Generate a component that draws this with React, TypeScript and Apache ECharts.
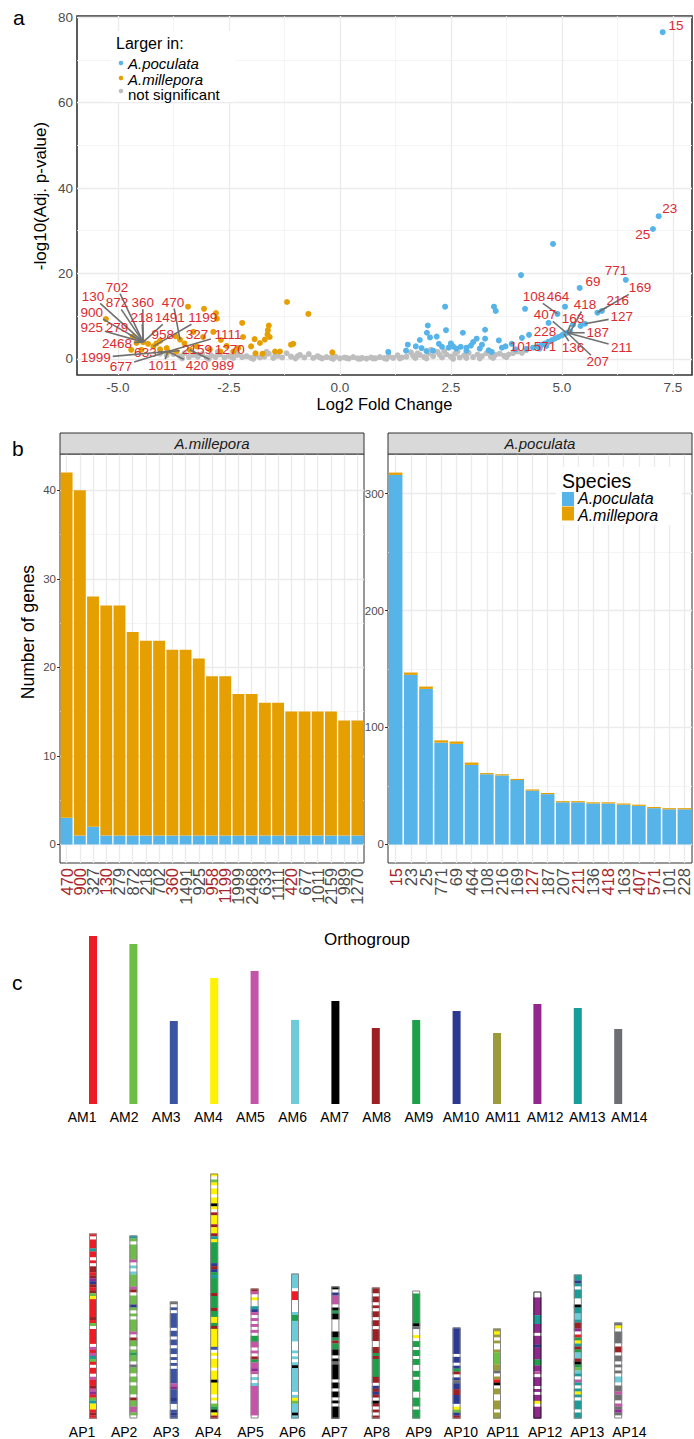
import React, { useEffect, useRef } from 'react';
import * as echarts from 'echarts';

const FONT = '"Liberation Sans", Arial, Helvetica, sans-serif';

// ---------------- Panel a: volcano plot ----------------
const volcanoXTicks = [-5, -2.5, 0, 2.5, 5, 7.5];
const volcanoXMinor = [-3.75, -1.25, 1.25, 3.75, 6.25];
const volcanoYTicks = [0, 20, 40, 60, 80];
const volcanoYMinor = [10, 30, 50, 70];

const poculataPoints = [
  [7.27, 76.5], [7.18, 33.4], [7.05, 30.4], [4.8, 26.9], [4.08, 19.6], [6.44, 18.5], [5.4, 16.6],
  [5.07, 12.2], [4.9, 10.5], [4.17, 11.7], [3.47, 12.2], [3.51, 11.2], [2.37, 12.2],
  [5.8, 10.8], [5.9, 11.2], [5.52, 8.2], [5.42, 7.7], [5.25, 8.0], [4.7, 8.4],
  [1.09, 1.6], [1.53, 3.3], [1.49, 1.9], [1.8, 4.4], [1.71, 2.9], [1.84, 2.5], [1.98, 7.8], [1.96, 6.1],
  [2.03, 5.0], [2.18, 5.2], [2.23, 3.5], [2.39, 6.7], [2.3, 2.8], [2.45, 2.6], [2.55, 2.9], [2.62, 2.4],
  [2.72, 2.8], [2.77, 6.1], [2.85, 2.6], [2.95, 3.1], [3.0, 3.9], [3.08, 4.7], [3.27, 6.8], [3.27, 4.7],
  [3.15, 2.4], [3.35, 2.0], [3.42, 1.6], [3.58, 4.3], [3.65, 2.6], [3.73, 2.9], [3.87, 3.5], [3.95, 2.2],
  [4.1, 4.9], [4.26, 5.6], [4.2, 2.3], [4.35, 2.6], [4.45, 2.9], [4.55, 3.3], [4.62, 3.6], [4.7, 4.0],
  [4.78, 4.4], [4.85, 4.8], [4.92, 5.1], [5.0, 5.5], [5.05, 5.8], [5.12, 6.1], [5.18, 6.4], [4.5, 2.4],
  [4.65, 3.0], [2.1, 1.9], [2.5, 3.6], [1.95, 1.8], [3.2, 3.3], [2.85, 1.9],
];

const milleporaPoints = [
  [-1.19, 13.3], [-0.71, 10.5], [-0.17, 1.5], [-1.05, 3.5], [-1.1, 3.3], [-1.46, 1.7], [-1.35, 1.7],
  [-1.6, 7.8], [-1.62, 6.7], [-1.63, 5.7], [-1.58, 5.1], [-1.69, 4.5], [-1.8, 3.7], [-1.92, 4.6],
  [-2.0, 2.9], [-1.9, 1.3], [-1.74, 1.2], [-2.2, 8.4], [-2.18, 5.1], [-2.29, 2.5], [-2.4, 1.7],
  [-2.79, 10.7], [-3.06, 11.7], [-3.42, 12.2], [-2.77, 9.4], [-2.85, 6.3], [-2.68, 4.4], [-3.08, 5.1],
  [-3.5, 3.6], [-3.7, 5.3], [-3.6, 4.5], [-2.69, 1.7], [-2.93, 2.2], [-3.22, 2.9], [-3.38, 2.1],
  [-3.68, 1.7], [-3.9, 2.5], [-5.27, 9.3], [-4.66, 5.2], [-4.43, 3.9], [-4.32, 3.5], [-4.2, 2.9],
  [-4.05, 2.2], [-4.13, 3.6], [-4.58, 3.7], [-4.47, 2.1], [-4.7, 2.1], [-3.87, 1.7], [-4.05, 4.2],
  [-3.3, 6.3], [-2.55, 3.0],
];

const notSignificantPoints = [
  [-4.05, 1.2], [-3.9, 0.8], [-3.75, 1.1], [-3.6, 0.6], [-3.5, 1.3], [-3.4, 0.4], [-3.3, 0.9], [-3.2, 0.5],
  [-3.1, 1.1], [-3.0, 0.3], [-2.9, 0.8], [-2.8, 0.4], [-2.7, 1.0], [-2.6, 0.3], [-2.5, 0.7], [-2.4, 0.2],
  [-2.3, 0.9], [-2.2, 0.4], [-2.1, 0.6], [-2.0, 0.2], [-1.9, 0.8], [-1.8, 0.3], [-1.7, 0.5], [-1.6, 1.2],
  [-1.5, 0.2], [-1.4, 0.7], [-1.3, 0.3], [-1.2, 1.3], [-1.1, 0.5], [-1.0, 0.1], [-0.9, 0.9], [-0.8, 0.3],
  [-0.7, 1.1], [-0.6, 0.2], [-0.5, 0.6], [-0.4, 0.1], [-0.3, 0.4], [-0.2, 0.2], [-0.1, 0.5], [0.0, 0.1],
  [0.1, 0.3], [0.2, 0.05], [0.3, 0.4], [0.4, 0.1], [0.5, 0.2], [0.6, 0.05], [0.7, 0.3], [0.8, 0.1],
  [0.9, 0.4], [1.0, 0.15], [1.1, 0.6], [1.2, 0.2], [1.3, 0.8], [1.4, 0.3], [1.5, 0.5], [1.6, 1.5],
  [1.7, 0.2], [1.8, 0.9], [1.9, 0.4], [2.0, 1.3], [2.1, 0.6], [2.2, 1.6], [2.3, 0.3], [2.4, 1.0],
  [2.5, 0.5], [2.6, 1.2], [2.7, 0.3], [2.8, 0.8], [2.9, 1.4], [3.0, 0.4], [3.1, 1.0], [3.2, 0.6],
  [3.3, 1.3], [3.4, 0.5], [3.5, 0.9], [3.6, 1.2], [3.7, 0.7], [3.8, 1.0], [3.9, 1.3], [4.0, 1.7],
  [4.1, 1.4], [4.2, 2.0], [-3.55, 0.1], [-2.95, 0.0], [-2.45, 0.5], [-1.95, 0.0], [-1.45, 0.9],
  [-0.95, 0.6], [-0.45, 0.3], [-0.15, 0.0], [0.15, 0.2], [0.45, 0.0], [0.75, 0.1], [1.05, 0.0],
  [1.35, 0.1], [1.65, 0.7], [1.95, 0.1], [2.25, 0.9], [2.55, 0.0], [2.85, 0.2], [3.15, 0.1], [3.45, 0.2],
  [3.75, 0.4], [1.75, 1.3], [2.05, 2.1], [2.35, 1.8], [2.65, 1.7], [-2.75, 1.6], [-2.35, 1.4], [-1.65, 1.6],
];

// [orthogroup, point x, point y, label x, label y]
const volcanoLabels: [string, number, number, number, number][] = [
  ['702', -4.43, 3.9, -5.02, 16.8], ['130', -4.43, 3.9, -5.56, 14.5], ['872', -4.43, 3.9, -5.02, 13.1],
  ['360', -4.43, 3.9, -4.44, 13.1], ['470', -3.6, 4.5, -3.76, 13.3], ['900', -4.43, 3.9, -5.59, 10.8],
  ['218', -4.43, 3.9, -4.46, 9.6], ['1491', -4.43, 3.9, -3.83, 9.6], ['1199', -4.2, 2.9, -3.09, 9.6],
  ['925', -4.43, 3.9, -5.59, 7.3], ['279', -4.43, 3.9, -5.02, 7.3], ['958', -4.05, 4.2, -3.99, 5.8],
  ['327', -3.5, 3.6, -3.22, 5.8], ['1111', -3.87, 1.7, -2.52, 5.8], ['2468', -4.43, 3.9, -5.02, 3.6],
  ['633', -3.87, 1.7, -4.38, 1.5], ['2159', -3.87, 1.7, -3.22, 2.1], ['1270', -2.55, 3.0, -2.48, 2.1],
  ['1999', -3.87, 1.7, -5.5, 0.2], ['677', -3.87, 1.7, -4.93, -1.7], ['1011', -3.87, 1.7, -3.99, -1.6],
  ['420', -3.87, 1.7, -3.22, -1.6], ['989', -3.38, 2.1, -2.64, -1.6],
  ['15', 7.27, 76.5, 7.57, 78.1], ['23', 7.18, 33.4, 7.43, 35.3], ['25', 7.05, 30.4, 6.82, 29.0],
  ['771', 6.44, 18.5, 6.22, 20.6], ['69', 5.4, 16.6, 5.7, 18.2], ['169', 5.86, 11.2, 6.76, 16.6],
  ['216', 5.8, 10.8, 6.26, 13.6], ['464', 5.07, 12.2, 4.91, 14.5], ['108', 4.9, 10.5, 4.37, 14.5],
  ['418', 5.18, 6.1, 5.52, 12.6], ['407', 5.1, 6.1, 4.62, 10.3], ['163', 5.12, 6.1, 5.25, 9.4],
  ['127', 5.52, 8.2, 6.35, 9.8], ['228', 5.0, 5.5, 4.62, 6.5], ['187', 5.12, 6.1, 5.81, 6.1],
  ['211', 5.12, 6.1, 6.35, 2.6], ['101', 4.35, 2.6, 4.08, 2.8], ['571', 4.7, 4.0, 4.62, 2.8],
  ['136', 5.05, 5.8, 5.25, 2.6], ['207', 5.12, 6.1, 5.81, -0.7],
];

// ---------------- Panel b: bar facets ----------------
const milleporaGroups = ['470', '900', '327', '130', '279', '872', '218', '702', '360', '1491', '925', '958',
  '1199', '1999', '2468', '633', '1111', '420', '677', '1011', '2159', '989', '1270'];
const milleporaFacetPoculata = [3, 1, 2, 1, 1, 1, 1, 1, 1, 1, 1, 1, 1, 1, 1, 1, 1, 1, 1, 1, 1, 1, 1];
const milleporaFacetMillepora = [39, 39, 26, 26, 26, 23, 22, 22, 21, 21, 20, 18, 18, 16, 16, 15, 15, 14, 14, 14, 14, 13, 13];

const poculataGroups = ['15', '23', '25', '771', '69', '464', '108', '216', '169', '127', '187', '207', '211',
  '136', '418', '163', '407', '571', '101', '228'];
const poculataFacetPoculata = [316, 145, 133, 87, 86, 68, 60, 59, 55, 46, 43, 36, 36, 35, 35, 34, 33, 31, 30, 30];
const poculataFacetMillepora = [2, 2, 2, 2, 2, 2, 1, 1, 1, 1, 1, 1, 1, 1, 1, 1, 1, 1, 1, 1];

const highlightedGroups = ['470', '900', '130', '360', '958', '1199', '420', '15', '127', '211', '418', '407', '571'];

const milleporaYTicks = [0, 10, 20, 30, 40];
const milleporaYMinor = [5, 15, 25, 35];
const poculataYTicks = [0, 100, 200, 300];
const poculataYMinor = [50, 150, 250];

// ---------------- Panel c: chromosomes ----------------
const amNames = ['AM1', 'AM2', 'AM3', 'AM4', 'AM5', 'AM6', 'AM7', 'AM8', 'AM9', 'AM10', 'AM11', 'AM12', 'AM13', 'AM14'];
const amLengths = [168, 160, 83, 126, 133, 84, 103, 76, 84, 93, 71, 100, 96, 75];
const apNames = ['AP1', 'AP2', 'AP3', 'AP4', 'AP5', 'AP6', 'AP7', 'AP8', 'AP9', 'AP10', 'AP11', 'AP12', 'AP13', 'AP14'];
const apLengths = [185, 183, 117, 245, 130, 145, 132, 131, 128, 91, 90, 127, 144, 96];
// band codes top->bottom: a..n = AM1..AM14 colour, w = unassigned (white)
const apBands = [
  'awaaamaawawhhahljhahbdaaaaaahabwaaaaaweaembawaaweaahelabmddaha',
  'mbwbbbbbewfwfbbbbehwbbbjbwbwbbbbewhbbwbibbwnbbwbbwbbbwhbbeebw',
  'nwcwcccccwccwccwccwcwcwcccccelcccjcwwcjc',
  'dwbdwddwddgdwhdddhddhmdiiiiiiijhjimiiiiihiiiihiiddihddddddcwdwdddwdddgddddwdwbigdh',
  'hewdwwmjewewewewiieewewhieelewfwfeeeeeeeeeew',
  'fffffwaaawwwwfiifffffffwwwfwfwfgffffffffwfdbfffgf',
  'gwjeeewgiggwwwwggihiiggwgngggggwggwggwgwgggg',
  'hhwhhwhwhhwhhwhhhhwwhhihiiiiiihhwjhjhwghwhwh',
  'wiiiiiiiiiignwwdwiiwiiwiiwwiiwiiiiwwiiiwiii',
  'jjjjjjjjjwjjwjihwjnjjhhjjjwdbjh',
  'kdkwkwwkbbbbkknwkagwkkwwkkkwkk',
  'wwllllllmmmlllwllljlllliillewlllwlwlldwllll',
  'mmjmwmmmwwgmmffmhhlwaidmhiffhgibfmwemwmdmwmmmwmm',
  'ndwnnnnwhhwnnwnwnwffwnnennwenlnw',
];
const bandKeys = 'abcdefghijklmnw';
const bandColors = ['#ED1C24', '#6DBE45', '#3A53A4', '#FFF200', '#C554A8', '#6DCBDA', '#000000', '#9E1F23',
  '#1E9F4A', '#2B3990', '#9C9B3A', '#92278F', '#189D9A', '#6D6E71', '#FFFFFF'];

const COL = { blue: '#56B4E9', orange: '#E69F00', gray: '#BEBEBE', red: '#DC2A30', darkRed: '#A8262B', tick: '#4D4D4D' };

function gridLines(xAxisIndex: number, yAxisIndex: number, xs: number[], ys: number[], xsMinor: number[], ysMinor: number[]) {
  const major = { color: '#EBEBEB', width: 1.3, type: 'solid' };
  const minor = { color: '#F3F3F3', width: 0.8, type: 'solid' };
  return {
    type: 'line', xAxisIndex, yAxisIndex, data: [], silent: true,
    markLine: {
      z: 1, silent: true, symbol: ['none', 'none'], label: { show: false }, emphasis: { disabled: true },
      data: [
        ...xsMinor.map((v) => ({ xAxis: v, lineStyle: minor })),
        ...ysMinor.map((v) => ({ yAxis: v, lineStyle: minor })),
        ...xs.map((v) => ({ xAxis: v, lineStyle: major })),
        ...ys.map((v) => ({ yAxis: v, lineStyle: major })),
      ],
    },
  };
}

function buildOption() {
  const tickStyle = { show: true, length: 3, lineStyle: { color: '#333', width: 1 } };

  const apBandData: number[][] = [];
  apBands.forEach((s, ci) => {
    const L = apLengths[ci];
    const n = s.length;
    let k = 0;
    while (k < n) {
      let j = k;
      while (j + 1 < n && s[j + 1] === s[k]) j++;
      apBandData.push([ci, L * (1 - (j + 1) / n), L * (1 - k / n), bandKeys.indexOf(s[k])]);
      k = j + 1;
    }
  });

  const richLabels = {
    r: { color: COL.darkRed, fontSize: 16.5, fontFamily: FONT },
    g: { color: COL.tick, fontSize: 16.5, fontFamily: FONT },
  };
  const catFormatter = (v: string) => (highlightedGroups.includes(v) ? `{r|${v}}` : `{g|${v}}`);

  const txt = (text: string, x: number, y: number, size: number, extra: any = {}) => ({
    type: 'text', x, y, z: 20, silent: true,
    rotation: extra.rotation || 0,
    style: {
      text, fill: extra.fill || '#000', fontSize: size, fontFamily: FONT,
      fontStyle: extra.italic ? 'italic' : 'normal',
      align: extra.align || 'left', verticalAlign: 'middle',
    },
  });

  const graphic: any[] = [
    txt('a', 13, 17, 21),
    txt('b', 12, 448, 21),
    txt('c', 12, 982, 21),
    // panel a axis titles
    txt('Log2 Fold Change', 384.5, 404, 16.5, { align: 'center' }),
    txt('-log10(Adj. p-value)', 40, 196, 17, { align: 'center', rotation: Math.PI / 2 }),
    // panel a legend
    { type: 'rect', z: 15, silent: true, shape: { x: 111, y: 31, width: 124, height: 71 }, style: { fill: '#fff' } },
    txt('Larger in:', 116, 43, 16),
    { type: 'circle', z: 20, silent: true, shape: { cx: 121, cy: 63, r: 2.3 }, style: { fill: COL.blue } },
    { type: 'circle', z: 20, silent: true, shape: { cx: 121, cy: 78, r: 2.3 }, style: { fill: COL.orange } },
    { type: 'circle', z: 20, silent: true, shape: { cx: 121, cy: 91, r: 2.3 }, style: { fill: COL.gray } },
    txt('A.poculata', 128, 63, 15, { italic: true }),
    txt('A.millepora', 128, 79.5, 15, { italic: true }),
    txt('not significant', 128, 94, 15),
    // panel b strips
    { type: 'rect', z: 15, silent: true, shape: { x: 60, y: 433, width: 304, height: 21 }, style: { fill: '#D9D9D9', stroke: '#333', lineWidth: 1 } },
    { type: 'rect', z: 15, silent: true, shape: { x: 388, y: 433, width: 304, height: 21 }, style: { fill: '#D9D9D9', stroke: '#333', lineWidth: 1 } },
    txt('A.millepora', 212, 443.5, 15, { italic: true, align: 'center', fill: '#1A1A1A' }),
    txt('A.poculata', 540, 443.5, 15, { italic: true, align: 'center', fill: '#1A1A1A' }),
    // panel b titles
    txt('Number of genes', 28, 632, 17.5, { align: 'center', rotation: Math.PI / 2 }),
    txt('Orthogroup', 367, 939, 17, { align: 'center' }),
    // panel b legend
    { type: 'rect', z: 15, silent: true, shape: { x: 556, y: 467, width: 126, height: 58 }, style: { fill: '#fff' } },
    txt('Species', 562, 480.5, 19.5),
    { type: 'rect', z: 20, silent: true, shape: { x: 562, y: 492, width: 12, height: 14 }, style: { fill: COL.blue } },
    { type: 'rect', z: 20, silent: true, shape: { x: 562, y: 506.5, width: 12, height: 14 }, style: { fill: COL.orange } },
    txt('A.poculata', 578, 498.5, 16, { italic: true }),
    txt('A.millepora', 578, 515, 16, { italic: true }),
  ];

  const labelRender = (params: any, api: any) => {
    const row = volcanoLabels[params.dataIndex];
    const name = row[0];
    const p = api.coord([api.value(0), api.value(1)]);
    const l = api.coord([api.value(2), api.value(3)]);
    const hw = name.length * 3.9 + 1.5;
    const hh = 6.5;
    const dx = p[0] - l[0];
    const dy = p[1] - l[1];
    const tx = dx !== 0 ? hw / Math.abs(dx) : Infinity;
    const ty = dy !== 0 ? hh / Math.abs(dy) : Infinity;
    const t = Math.min(tx, ty);
    const children: any[] = [];
    if (t < 1 && Math.hypot(dx * (1 - t), dy * (1 - t)) > 5) {
      children.push({
        type: 'line',
        shape: { x1: l[0] + dx * t, y1: l[1] + dy * t, x2: p[0], y2: p[1] },
        style: { stroke: '#707070', lineWidth: 1.6 },
      });
    }
    children.push({
      type: 'text', x: l[0], y: l[1],
      style: { text: name, fill: COL.red, fontSize: 13.5, fontFamily: FONT, align: 'center', verticalAlign: 'middle' },
    });
    return { type: 'group', children };
  };

  const bandRender = (params: any, api: any) => {
    const ci = api.value(0);
    const top = api.coord([ci, api.value(2)]);
    const bottom = api.coord([ci, api.value(1)]);
    return {
      type: 'rect',
      shape: { x: top[0] - 4, y: top[1], width: 8, height: bottom[1] - top[1] + 0.2 },
      style: { fill: bandColors[api.value(3)] },
    };
  };

  const hiddenAxis = { show: false };

  return {
    animation: false,
    backgroundColor: '#ffffff',
    textStyle: { fontFamily: FONT },
    graphic,
    grid: [
      { left: 77, top: 16, width: 615, height: 359, show: true, borderColor: '#333', borderWidth: 1.6, backgroundColor: 'transparent' },
      { left: 60, top: 454, width: 304, height: 409, show: true, borderColor: '#333', borderWidth: 1, backgroundColor: 'transparent' },
      { left: 388, top: 454, width: 304, height: 409, show: true, borderColor: '#333', borderWidth: 1, backgroundColor: 'transparent' },
      { left: 72.8, top: 934, width: 565.6, height: 170 },
      { left: 72.8, top: 1168.5, width: 565.6, height: 250 },
      { left: 61, top: 1100, width: 589.4, height: 4 },
      { left: 61, top: 1414.5, width: 589.4, height: 4 },
    ],
    xAxis: [
      {
        type: 'value', gridIndex: 0, min: -5.92, max: 7.93,
        axisLine: { show: false }, splitLine: { show: false },
        axisTick: { ...tickStyle, customValues: volcanoXTicks },
        axisLabel: { customValues: volcanoXTicks, formatter: (v: number) => v.toFixed(1), color: COL.tick, fontSize: 13.5, margin: 5, fontFamily: FONT },
      },
      {
        type: 'category', gridIndex: 1, data: milleporaGroups,
        axisLine: { show: false }, splitLine: { show: false },
        axisTick: { ...tickStyle, alignWithLabel: true, interval: 0 },
        axisLabel: { interval: 0, rotate: 90, margin: 5, formatter: catFormatter, rich: richLabels },
      },
      {
        type: 'category', gridIndex: 2, data: poculataGroups,
        axisLine: { show: false }, splitLine: { show: false },
        axisTick: { ...tickStyle, alignWithLabel: true, interval: 0 },
        axisLabel: { interval: 0, rotate: 90, margin: 5, formatter: catFormatter, rich: richLabels },
      },
      { type: 'category', gridIndex: 3, data: amNames, axisLine: hiddenAxis, axisTick: hiddenAxis, axisLabel: hiddenAxis, splitLine: hiddenAxis },
      { type: 'category', gridIndex: 4, data: apNames, axisLine: hiddenAxis, axisTick: hiddenAxis, axisLabel: hiddenAxis, splitLine: hiddenAxis },
      {
        type: 'category', gridIndex: 5, data: amNames, axisLine: hiddenAxis, axisTick: hiddenAxis, splitLine: hiddenAxis,
        axisLabel: { interval: 0, color: '#000', fontSize: 14, margin: 6, fontFamily: FONT },
      },
      {
        type: 'category', gridIndex: 6, data: apNames, axisLine: hiddenAxis, axisTick: hiddenAxis, splitLine: hiddenAxis,
        axisLabel: { interval: 0, color: '#000', fontSize: 14, margin: 6, fontFamily: FONT },
      },
    ],
    yAxis: [
      {
        type: 'value', gridIndex: 0, min: -3.8, max: 80.3,
        axisLine: { show: false }, splitLine: { show: false },
        axisTick: { ...tickStyle, customValues: volcanoYTicks },
        axisLabel: { customValues: volcanoYTicks, color: COL.tick, fontSize: 13.5, margin: 4, fontFamily: FONT },
      },
      {
        type: 'value', gridIndex: 1, min: -2.1, max: 44.1,
        axisLine: { show: false }, splitLine: { show: false },
        axisTick: { ...tickStyle, customValues: milleporaYTicks },
        axisLabel: { customValues: milleporaYTicks, color: COL.tick, fontSize: 11.5, margin: 4, fontFamily: FONT },
      },
      {
        type: 'value', gridIndex: 2, min: -15.9, max: 333.9,
        axisLine: { show: false }, splitLine: { show: false },
        axisTick: { ...tickStyle, customValues: poculataYTicks },
        axisLabel: { customValues: poculataYTicks, color: COL.tick, fontSize: 11.5, margin: 4, fontFamily: FONT },
      },
      { type: 'value', gridIndex: 3, min: 0, max: 170, show: false },
      { type: 'value', gridIndex: 4, min: 0, max: 250, show: false },
      { type: 'value', gridIndex: 5, min: 0, max: 1, show: false },
      { type: 'value', gridIndex: 6, min: 0, max: 1, show: false },
    ],
    series: [
      // ---- panel a
      gridLines(0, 0, volcanoXTicks, volcanoYTicks, volcanoXMinor, volcanoYMinor),
      {
        name: 'not significant', type: 'scatter', xAxisIndex: 0, yAxisIndex: 0, z: 2,
        symbolSize: 6, itemStyle: { color: COL.gray, opacity: 1 }, data: notSignificantPoints, silent: true,
      },
      {
        name: 'A.millepora', type: 'scatter', xAxisIndex: 0, yAxisIndex: 0, z: 3,
        symbolSize: 6, itemStyle: { color: COL.orange, opacity: 1 }, data: milleporaPoints, silent: true,
      },
      {
        name: 'A.poculata', type: 'scatter', xAxisIndex: 0, yAxisIndex: 0, z: 3,
        symbolSize: 6, itemStyle: { color: COL.blue, opacity: 1 }, data: poculataPoints, silent: true,
      },
      {
        type: 'custom', xAxisIndex: 0, yAxisIndex: 0, z: 6, clip: false, silent: true,
        encode: { x: [0, 2], y: [1, 3] },
        data: volcanoLabels.map((r) => [r[1], r[2], r[3], r[4]]),
        renderItem: labelRender,
      },
      // ---- panel b, left facet
      gridLines(1, 1, milleporaGroups.map((_, i) => i), milleporaYTicks, [], milleporaYMinor),
      {
        name: 'A.poculata', type: 'bar', stack: 'mil', xAxisIndex: 1, yAxisIndex: 1, z: 3,
        barCategoryGap: '10%', itemStyle: { color: COL.blue }, data: milleporaFacetPoculata, silent: true,
      },
      {
        name: 'A.millepora', type: 'bar', stack: 'mil', xAxisIndex: 1, yAxisIndex: 1, z: 3,
        barCategoryGap: '10%', itemStyle: { color: COL.orange }, data: milleporaFacetMillepora, silent: true,
      },
      // ---- panel b, right facet
      gridLines(2, 2, poculataGroups.map((_, i) => i), poculataYTicks, [], poculataYMinor),
      {
        name: 'A.poculata', type: 'bar', stack: 'poc', xAxisIndex: 2, yAxisIndex: 2, z: 3,
        barCategoryGap: '10%', itemStyle: { color: COL.blue }, data: poculataFacetPoculata, silent: true,
      },
      {
        name: 'A.millepora', type: 'bar', stack: 'poc', xAxisIndex: 2, yAxisIndex: 2, z: 3,
        barCategoryGap: '10%', itemStyle: { color: COL.orange }, data: poculataFacetMillepora, silent: true,
      },
      // ---- panel c
      {
        type: 'bar', xAxisIndex: 3, yAxisIndex: 3, barWidth: 8, silent: true,
        data: amLengths.map((v, i) => ({ value: v, itemStyle: { color: bandColors[i] } })),
      },
      {
        type: 'custom', xAxisIndex: 4, yAxisIndex: 4, z: 2, silent: true,
        encode: { x: 0, y: [1, 2] },
        data: apBandData,
        renderItem: bandRender,
      },
      {
        type: 'bar', xAxisIndex: 4, yAxisIndex: 4, barWidth: 8, z: 4, silent: true,
        data: apLengths.map((v, i) => ({
          value: v,
          itemStyle: { color: 'rgba(0,0,0,0)', borderColor: i === 11 ? '#222' : '#858585', borderWidth: 1 },
        })),
      },
    ],
  };
}

export default function App() {
  const ref = useRef<HTMLDivElement>(null);
  useEffect(() => {
    document.body.style.margin = '0';
    if (!ref.current) return;
    const chart = echarts.init(ref.current, undefined, { renderer: 'svg' });
    chart.setOption(buildOption() as any);
    return () => chart.dispose();
  }, []);
  return <div ref={ref} style={{ position: 'absolute', left: 0, top: 0, width: 694, height: 1439 }} />;
}
